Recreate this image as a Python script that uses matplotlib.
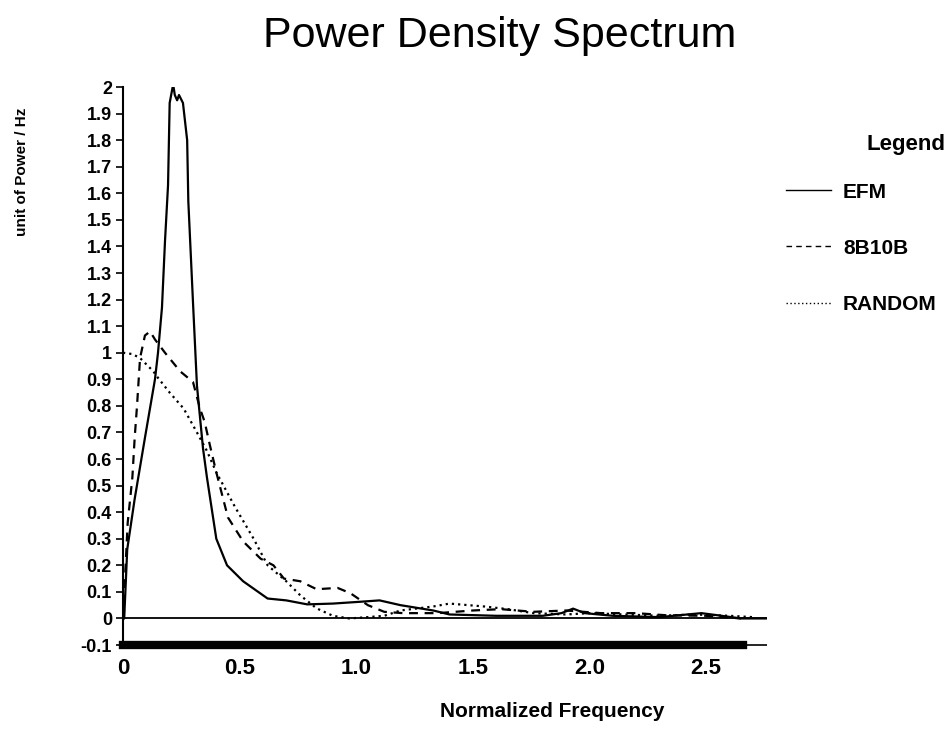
"""Power density spectrum of EFM / 8B10B / RANDOM line codes (redrawn from a scanned figure)."""

import matplotlib

matplotlib.use("Agg")
import matplotlib.pyplot as plt

plt.rcParams["font.family"] = ["Liberation Sans", "DejaVu Sans"]

# Values (normalized frequency, power / Hz).
efm_x = [0.0, 0.005, 0.018, 0.05, 0.094, 0.137, 0.15, 0.167, 0.18, 0.193, 0.2, 0.215,
         0.222, 0.232, 0.24, 0.257, 0.275, 0.28, 0.30, 0.317, 0.343, 0.36, 0.40, 0.446,
         0.515, 0.62, 0.70, 0.79, 0.90, 1.02, 1.10, 1.19, 1.33, 1.40, 1.6, 1.8, 1.88,
         1.93, 1.98, 2.1, 2.3, 2.42, 2.48, 2.55, 2.65, 2.76]
efm_y = [0.0, 0.0, 0.26, 0.45, 0.68, 0.9, 1.0, 1.17, 1.42, 1.63, 1.94, 2.01,
         1.97, 1.95, 1.97, 1.94, 1.80, 1.57, 1.19, 0.876, 0.64, 0.53, 0.30, 0.2,
         0.14, 0.075, 0.068, 0.053, 0.056, 0.063, 0.068, 0.05, 0.03, 0.015, 0.01, 0.01, 0.02,
         0.037, 0.02, 0.01, 0.005, 0.015, 0.02, 0.012, 0.0, 0.0]

b8b10b_x = [0.0, 0.003, 0.01, 0.02, 0.04, 0.05, 0.06, 0.073, 0.094, 0.116, 0.137, 0.18,
            0.245, 0.30, 0.33, 0.35, 0.373, 0.40, 0.45, 0.515, 0.59, 0.645, 0.69, 0.76,
            0.83, 0.92, 0.975, 1.05, 1.12, 1.2, 1.35, 1.5, 1.62, 1.76, 1.9, 2.05, 2.2,
            2.33, 2.5, 2.65]
b8b10b_y = [0.0, 0.0, 0.18, 0.36, 0.53, 0.68, 0.80, 0.98, 1.065, 1.08, 1.05, 1.0,
            0.93, 0.89, 0.79, 0.74, 0.65, 0.55, 0.38, 0.29, 0.225, 0.2, 0.15, 0.14,
            0.11, 0.115, 0.095, 0.05, 0.025, 0.02, 0.02, 0.03, 0.035, 0.025, 0.03, 0.02, 0.02,
            0.012, 0.01, 0.0]

random_x = [0.0, 0.04, 0.073, 0.13, 0.146, 0.2, 0.26, 0.317, 0.36, 0.40, 0.48, 0.56,
            0.62, 0.70, 0.76, 0.83, 0.90, 0.97, 1.05, 1.12, 1.19, 1.33, 1.40, 1.55,
            1.65, 1.76, 1.9, 2.0, 2.15, 2.3, 2.45, 2.6, 2.7]
random_y = [1.0, 0.995, 0.98, 0.93, 0.91, 0.85, 0.79, 0.70, 0.63, 0.55, 0.42, 0.30,
            0.2, 0.14, 0.087, 0.038, 0.01, 0.0, 0.005, 0.01, 0.03, 0.045, 0.056, 0.045,
            0.035, 0.02, 0.015, 0.02, 0.015, 0.01, 0.015, 0.01, 0.005]

y_ticks = [-0.1, 0, 0.1, 0.2, 0.3, 0.4, 0.5, 0.6, 0.7, 0.8, 0.9, 1, 1.1, 1.2, 1.3,
           1.4, 1.5, 1.6, 1.7, 1.8, 1.9, 2]
y_tick_labels = ["-0.1", "0", "0.1", "0.2", "0.3", "0.4", "0.5", "0.6", "0.7", "0.8",
                 "0.9", "1", "1.1", "1.2", "1.3", "1.4", "1.5", "1.6", "1.7", "1.8",
                 "1.9", "2"]
x_ticks = [0, 0.5, 1.0, 1.5, 2.0, 2.5]
x_tick_labels = ["0", "0.5", "1.0", "1.5", "2.0", "2.5"]

fig = plt.figure(figsize=(9.5, 7.3), dpi=100)
ax = fig.add_axes([0.1295, 0.1164, 0.6775, 0.7644])

ax.plot(efm_x, efm_y, color="black", lw=1.6, label="EFM")
ax.plot(b8b10b_x, b8b10b_y, color="black", lw=1.6, ls=(0, (4, 3)), label="8B10B")
ax.plot(random_x, random_y, color="black", lw=1.6, ls=(0, (1, 1.8)), label="RANDOM")
ax.axhline(0, color="black", lw=1.3)

ax.set_xlim(0, 2.76)
ax.set_ylim(-0.1, 2.0)

for side in ("top", "right"):
    ax.spines[side].set_visible(False)
ax.spines["left"].set_linewidth(1.5)
# the scan has a heavy baseline that stops short of the axis end
ax.spines["bottom"].set_linewidth(6)
ax.spines["bottom"].set_bounds(0, 2.66)
ax.hlines(-0.1, 2.66, 2.76, color="black", lw=1.2, clip_on=False)

ax.set_yticks(y_ticks)
ax.set_yticklabels(y_tick_labels, fontsize=13, fontweight="bold")
ax.set_xticks(x_ticks)
ax.set_xticklabels(x_tick_labels, fontsize=16, fontweight="bold")
ax.tick_params(axis="y", direction="out", length=5, width=1.2, pad=3)
ax.tick_params(axis="x", length=0, pad=9)

fig.text(0.526, 0.9356, "Power Density Spectrum", fontsize=31, ha="center", va="baseline")
fig.text(0.023, 0.765, "unit of Power / Hz", fontsize=11, fontweight="bold",
         rotation=90, ha="center", va="center")
fig.text(0.581, 0.025, "Normalized Frequency", fontsize=15, fontweight="bold",
         ha="center", va="center")

# legend title sits closer to the entries than matplotlib's own title would
fig.text(0.995, 0.8014, "Legend", fontsize=16, fontweight="bold", ha="right", va="center")
leg = fig.legend(loc="upper right", bbox_to_anchor=(0.997, 0.764), frameon=False,
                 borderpad=0, handlelength=2.16, handletextpad=0.58, labelspacing=1.78,
                 prop={"size": 15, "weight": "bold"})
for h in leg.get_lines():
    h.set_linewidth(1.0)

fig.savefig("out.png", dpi=100)
